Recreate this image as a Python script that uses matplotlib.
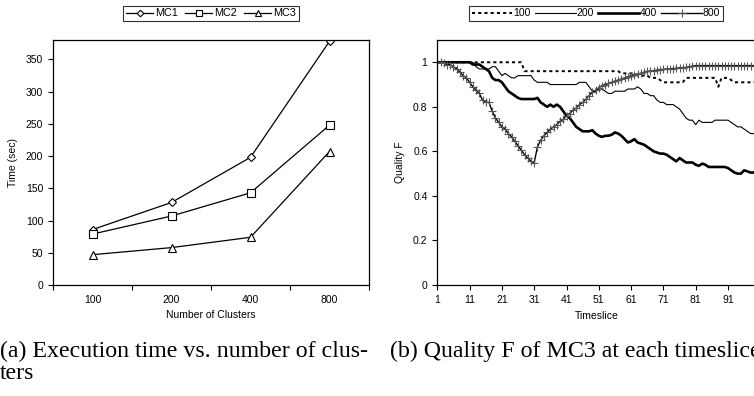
import matplotlib
matplotlib.use("Agg")
import matplotlib.pyplot as plt
import numpy as np

plt.rcParams['font.family'] = ['Liberation Sans', 'DejaVu Sans']

# (a) execution time
clusters = ['100', '200', '400', '800']
mc1 = [86, 128, 198, 378]
mc2 = [79, 107, 143, 248]
mc3 = [47, 58, 74, 207]

# (b) quality F per timeslice (1..100)
timeslice = list(range(1, 101))
q100 = ([1.0] * 27 + [0.96] * 30 + [0.95] * 5 + [0.94] * 4 + [0.93] * 3 + [0.92]
        + [0.91] * 7 + [0.93] * 10 + [0.89] + [0.93] * 3 + [0.92] + [0.91] * 8)
q200 = ([1.0] * 12 +
        [0.98, 0.97, 0.97, 0.97, 0.97, 0.98, 0.98, 0.96, 0.94, 0.95,
         0.94, 0.93, 0.93, 0.94, 0.94, 0.94, 0.94, 0.94, 0.92, 0.91,
         0.91, 0.91, 0.91, 0.90, 0.90, 0.90, 0.90, 0.90, 0.90, 0.90,
         0.90, 0.90, 0.91, 0.91, 0.91, 0.89, 0.87, 0.87, 0.88, 0.88,
         0.87, 0.86, 0.86, 0.87, 0.87, 0.87, 0.87, 0.88, 0.88, 0.88,
         0.89, 0.88, 0.86, 0.86, 0.85, 0.85, 0.83, 0.82, 0.82, 0.81,
         0.81, 0.81, 0.80, 0.79, 0.77, 0.75, 0.74, 0.74, 0.72, 0.74,
         0.73, 0.73, 0.73, 0.73, 0.74, 0.74, 0.74, 0.74, 0.74, 0.73,
         0.72, 0.71, 0.71, 0.70, 0.69, 0.68, 0.68, 0.67])
q400 = ([1.0] * 11 + [0.99] * 3 +
        [0.98, 0.97, 0.96, 0.93, 0.92, 0.92, 0.91, 0.89, 0.87, 0.86,
         0.85, 0.84, 0.835, 0.835, 0.835, 0.835, 0.835, 0.84, 0.82, 0.81,
         0.80, 0.81, 0.80, 0.81, 0.80, 0.78, 0.76, 0.75, 0.73, 0.71,
         0.70, 0.69, 0.69, 0.69, 0.695, 0.68, 0.67, 0.665, 0.67, 0.67,
         0.675, 0.685, 0.68, 0.67, 0.655, 0.64, 0.645, 0.655, 0.64, 0.635,
         0.63, 0.62, 0.61, 0.60, 0.595, 0.59, 0.59, 0.585, 0.575, 0.565,
         0.555, 0.57, 0.56, 0.55, 0.55, 0.55, 0.54, 0.535, 0.545, 0.54,
         0.53, 0.53, 0.53, 0.53, 0.53, 0.53, 0.525, 0.515, 0.505, 0.50,
         0.50, 0.515, 0.51, 0.505, 0.505, 0.505])
q800 = ([1.0, 1.0, 0.995, 0.99, 0.99, 0.98, 0.97, 0.955, 0.94, 0.93,
         0.91, 0.89, 0.875, 0.86, 0.83, 0.82, 0.82, 0.78, 0.75, 0.73,
         0.71, 0.70, 0.68, 0.665, 0.645, 0.625, 0.605, 0.585, 0.57, 0.555,
         0.55, 0.62, 0.65, 0.67, 0.685, 0.70, 0.71, 0.72, 0.735, 0.745,
         0.76, 0.77, 0.785, 0.795, 0.81, 0.82, 0.835, 0.85, 0.865, 0.875,
         0.885, 0.895, 0.90, 0.905, 0.91, 0.915, 0.92, 0.925, 0.93, 0.935,
         0.94, 0.945, 0.947, 0.95, 0.955, 0.96, 0.96, 0.962, 0.965, 0.967,
         0.968, 0.97, 0.97, 0.972, 0.973, 0.975, 0.975, 0.977, 0.98, 0.983]
        + [0.985] * 20)

W, H = 754, 396
fig = plt.figure(figsize=(W / 100, H / 100), dpi=100)

tick_fs = 7.5

# ---- left panel
ax1 = fig.add_axes([53 / W, 1 - 285 / H, (369 - 53) / W, (285 - 40) / H])
x = np.arange(1, len(clusters) + 1)
ax1.plot(x, mc1, 'k-', marker='D', ms=4.2, mfc='white', mew=0.8, lw=0.9, label='MC1')
ax1.plot(x, mc2, 'k-', marker='s', ms=5.5, mfc='white', mew=0.8, lw=0.9, label='MC2')
ax1.plot(x, mc3, 'k-', marker='^', ms=5.5, mfc='white', mew=0.8, lw=0.9, label='MC3')
ax1.set_xlim(0.5, 4.5)
ax1.set_ylim(0, 380)
ax1.set_yticks(range(0, 351, 50))
ax1.set_xticks(np.arange(0.5, 4.6, 1))
ax1.set_xticklabels([])
ax1.set_xticks(x, minor=True)
ax1.set_xticklabels(clusters, minor=True)
ax1.tick_params(axis='x', which='minor', length=0, pad=7, labelsize=tick_fs)
ax1.tick_params(axis='both', which='major', direction='out', length=3.5, width=0.8,
                labelsize=tick_fs)
ax1.set_ylabel('Time (sec)', fontsize=tick_fs, labelpad=6)
ax1.set_xlabel('Number of Clusters', fontsize=tick_fs, labelpad=4)
for s in ax1.spines.values():
    s.set_linewidth(0.9)
leg1 = ax1.legend(loc='center', bbox_to_anchor=(211 / W, 1 - 13.5 / H),
                  bbox_transform=fig.transFigure, ncol=3, fontsize=7.8,
                  frameon=True, fancybox=False, handlelength=2.5, handletextpad=0.15,
                  columnspacing=0.7, borderpad=0.25, markerscale=0.8)
leg1.get_frame().set_edgecolor('black')
leg1.get_frame().set_linewidth(0.8)

# ---- right panel (cut off at the figure's right edge)
x0 = 437.3
px_per = 3.23
ax2 = fig.add_axes([x0 / W, 1 - 285 / H, 99 * px_per / W, (285 - 40) / H])
ax2.plot(timeslice, q100, color='black', lw=1.4, dashes=(1.6, 1.6), label='100')
ax2.plot(timeslice, q200, color='black', lw=0.8, label='200')
ax2.plot(timeslice, q400, color='black', lw=1.9, label='400')
ax2.plot(timeslice, q800, color='black', lw=1.0, marker='+', ms=6, mew=0.8,
         mec='#555555', label='800')
ax2.set_xlim(1, 100)
ax2.set_ylim(0, 1.1)
ax2.set_yticks([0, 0.2, 0.4, 0.6, 0.8, 1.0])
ax2.set_yticklabels(['0', '0.2', '0.4', '0.6', '0.8', '1'])
ax2.set_xticks(range(1, 100, 10))
ax2.tick_params(axis='both', direction='out', length=3.5, width=0.8, labelsize=tick_fs)
ax2.tick_params(axis='x', pad=4)
ax2.set_ylabel('Quality F', fontsize=tick_fs, labelpad=6)
ax2.set_xlabel('Timeslice', fontsize=tick_fs, labelpad=4)
for s in ax2.spines.values():
    s.set_linewidth(0.9)
leg2 = ax2.legend(loc='center', bbox_to_anchor=(596 / W, 1 - 13.5 / H),
                  bbox_transform=fig.transFigure, ncol=4, fontsize=tick_fs,
                  frameon=True, fancybox=False, handlelength=3.9, handletextpad=0.1,
                  columnspacing=0.4, borderpad=0.25, markerscale=0.9)
leg2.get_frame().set_edgecolor('black')
leg2.get_frame().set_linewidth(0.8)

# ---- captions (the (b) caption runs past the right edge, as in the source)
cap_kw = dict(fontsize=17.2, family=['Liberation Serif', 'DejaVu Serif'], va='baseline')
fig.text(0 / W, 1 - 357 / H, '(a) Execution time vs. number of clus-', **cap_kw)
fig.text(0 / W, 1 - 379 / H, 'ters', **cap_kw)
fig.text(390 / W, 1 - 357 / H, '(b) Quality F of MC3 at each timeslice', **cap_kw)

fig.savefig('out.png', dpi=100)
